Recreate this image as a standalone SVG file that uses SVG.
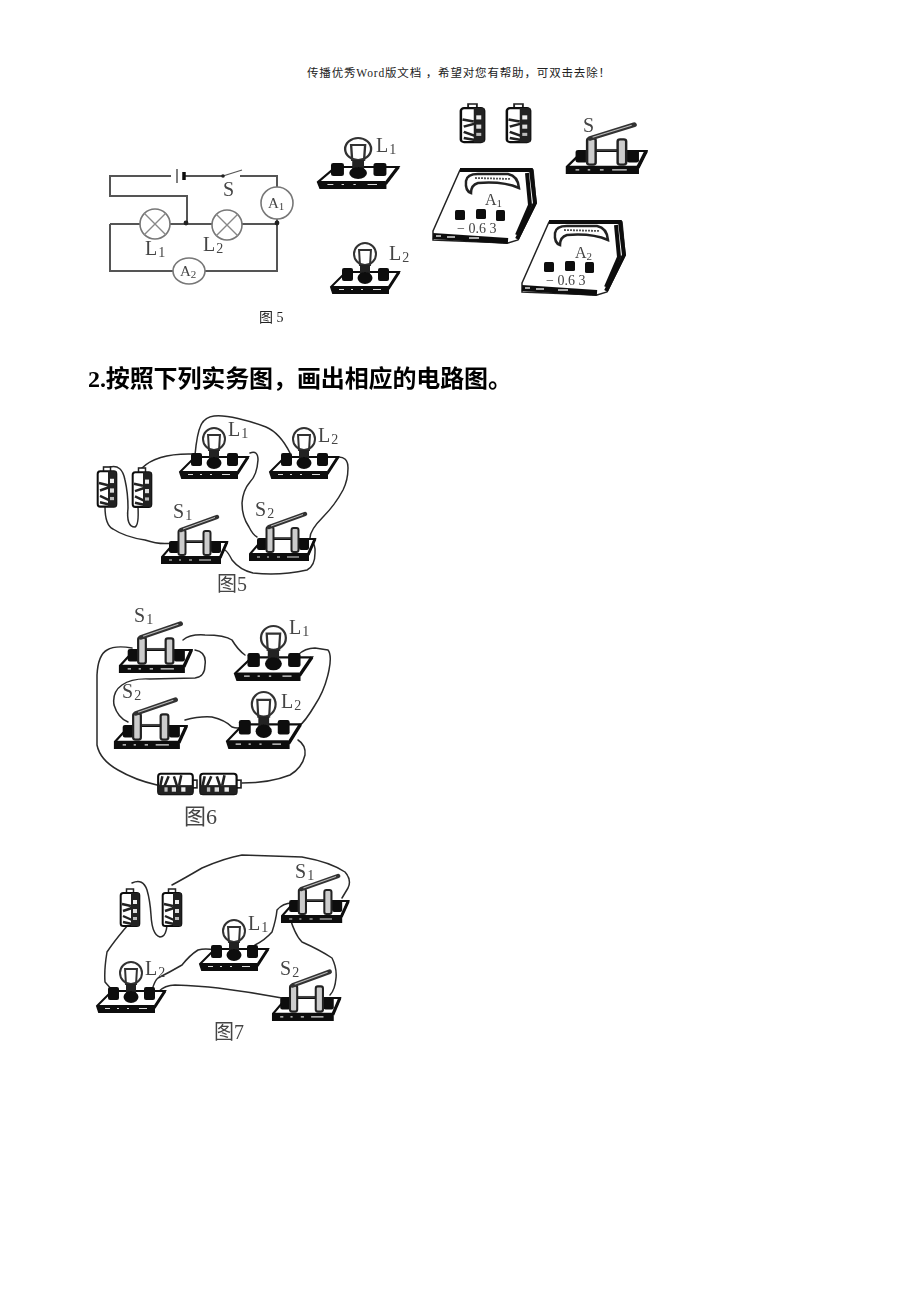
<svg xmlns="http://www.w3.org/2000/svg" width="920" height="1302" viewBox="0 0 920 1302">
<style>
text{font-family:"Liberation Serif","Noto Sans CJK SC",serif;fill:#444}
.hd{font-size:11.5px;fill:#222}
.h2{font-size:24px;font-weight:bold;fill:#000;font-family:"Liberation Serif","Noto Sans CJK SC",serif}
.lb{font-size:20px}
.sb{font-size:14px}
.cap{font-size:14px;fill:#222}
.fig{font-size:20px;fill:#444}
.w{fill:none;stroke:#2a2a2a;stroke-width:1.5;stroke-linecap:round;stroke-linejoin:round}
.c{fill:none;stroke:#555;stroke-width:2}
.k{fill:#fff;stroke:#777;stroke-width:1.6}
.x{stroke:#888;stroke-width:1.4}
</style>
<defs>
<filter id="soft" x="-5%" y="-5%" width="110%" height="110%"><feGaussianBlur stdDeviation="0.45"/></filter>
<g id="bulb">
<path d="M0 -6L15 -21L68 -21L57 -4L57 0L2 0Z" fill="#fff" stroke="#111" stroke-width="2"/>
<path d="M0 -7L57 -7L57 0L2 0Z" fill="#111"/>
<path d="M8 -3.500h5M20 -3.500h2M30 -3.500h2M42 -3.500h8" stroke="#ddd" stroke-width="1.2"/>
<path d="M57 -4L68 -21" stroke="#111" stroke-width="3"/>
<rect x="11" y="-25" width="11" height="13" rx="2" fill="#111"/>
<rect x="47" y="-25" width="11" height="13" rx="2" fill="#111"/>
<circle cx="34" cy="-39" r="11" fill="#fff" stroke="#333" stroke-width="2"/>
<path d="M28 -44L29 -27M40 -44L39 -27M28 -43L40 -43" stroke="#333" stroke-width="2" fill="none"/>
<rect x="29" y="-28" width="10" height="12" fill="#222"/>
<ellipse cx="34" cy="-15" rx="7.500" ry="6" fill="#111"/>
</g>
<g id="switch">
<path d="M0 -6L13 -21L65 -21L58 -5L58 0L0 0Z" fill="#fff" stroke="#111" stroke-width="2"/>
<path d="M0 -7L58 -7L58 0L0 0Z" fill="#111"/>
<path d="M7 -3h3M17 -3h2M27 -3h3M37 -3h12" stroke="#ddd" stroke-width="1.2"/>
<path d="M58 -5L65 -21" stroke="#111" stroke-width="3"/>
<rect x="7" y="-22" width="10" height="12" rx="2" fill="#111"/>
<rect x="49" y="-22" width="10" height="12" rx="2" fill="#111"/>
<path d="M24 -22H44" stroke="#444" stroke-width="1.800"/>
<rect x="16.500" y="-33" width="7" height="25" rx="2" fill="#ccc" stroke="#222" stroke-width="2"/>
<rect x="41.500" y="-32" width="7" height="24" rx="2" fill="#ccc" stroke="#222" stroke-width="2"/>
<path d="M19 -33L55 -46" stroke="#333" stroke-width="4.500" stroke-linecap="round"/>
<path d="M21 -34L53 -45.500" stroke="#bbb" stroke-width="1"/>
</g>
<g id="cell">
<rect x="6.500" y="0" width="7" height="5" fill="#fff" stroke="#222" stroke-width="1.500"/>
<rect x="0.700" y="4" width="18.600" height="33" rx="2.500" fill="#fff" stroke="#111" stroke-width="2"/>
<rect x="11" y="4" width="8.500" height="33" fill="#222"/>
<path d="M2 15L11 17M3 22L12 19M3 27L12 31M3 33L12 35" stroke="#222" stroke-width="2.400"/>
<rect x="13" y="11" width="4" height="4" fill="#eee"/>
<rect x="13" y="20" width="4" height="4" fill="#ddd"/>
<rect x="13" y="28" width="4" height="3" fill="#bbb"/>
</g>
<g id="meter">
<path d="M0 -12L27 -73L100 -73L103 -40L85 -3L75 0L0 -3Z" fill="#fff" stroke="#222" stroke-width="1.500"/>
<path d="M27 -73H98L102 -40L84 -4" fill="none" stroke="#111" stroke-width="4"/>
<path d="M94 -70L97 -38L84 -8" fill="none" stroke="#111" stroke-width="4"/>
<path d="M33 -62Q34 -69 45 -69L75 -69Q85 -67 86 -55Q70 -62 45 -60Q38 -58 38 -50Q32 -52 33 -62Z" fill="#fff" stroke="#222" stroke-width="2.500"/>
<path d="M42 -65L78 -64" stroke="#555" stroke-width="1.800" stroke-dasharray="2 1"/>
<rect x="22" y="-33" width="10" height="10" rx="1.500" fill="#111"/>
<rect x="43" y="-34" width="10" height="10" rx="1.500" fill="#111"/>
<rect x="63" y="-33" width="9" height="11" rx="1.500" fill="#111"/>
<path d="M0 -7L75 -2" stroke="#111" stroke-width="6"/>
<path d="M3 -7h5M14 -6h8M36 -5h10" stroke="#ddd" stroke-width="1.400"/>
</g>
</defs>
<rect width="920" height="1302" fill="#fff"/>
<text class="hd" x="307" y="77" textLength="303" lengthAdjust="spacing">传播优秀Word版文档 ，希望对您有帮助，可双击去除！</text>
<g filter="url(#soft)">
<g id="connectors">
<g id="circuit-wires" class="c">
<path d="M171 176H110V196H187V223M184 176H223M240 176H277V187M277 219V223M110 224H140M170 224H212M242 224H277V271H205M173 271H110V224"/>
<path d="M223 176L242 170" stroke-width="1.200"/>
<path d="M177 169V183" stroke-width="1.500"/>
<path d="M184 172V180" stroke="#111" stroke-width="3.500"/>
</g>
<g id="fig5-wires" class="w">
<path d="M142 468Q157 453 193 454"/>
<path d="M195 455Q197 433 201 425Q205 417 214 416Q223 415 238 418.500Q253 422 266 427Q280 433 290 453"/>
<path d="M250 453Q258 450 258 460Q257 475 250 482Q243 490 242 503Q242 517 249 527Q253 535 257 537"/>
<path d="M337 457Q348 456 348 468Q348 480 343 490Q335 505 323 517Q310 530 310 538Q316 545 315 553Q315 566 307 570Q280 576 253 573Q240 570 232 560Q228 552 225 550"/>
<path d="M110 467Q122 464 125 480Q128 493 128 508Q126 527 135 527Q139 525 138 507"/>
<path d="M105 507Q105 525 113 529Q125 537 145 540Q160 545 172 543"/>
</g>
<g id="fig6-wires" class="w">
<path d="M132 648Q115 645 107 650Q98 655 97 675L97 745Q100 760 118 770Q135 780 157 785"/>
<path d="M183 640Q190 634 205 635Q225 635 232 640Q238 650 245 655"/>
<path d="M195 650Q207 652 205 665Q205 677 195 678L150 679Q132 678 122 685Q112 692 114 705Q118 718 128 722"/>
<path d="M185 720Q200 716 212 717Q225 720 232 727Q238 729 242 727"/>
<path d="M298 655Q305 648 315 648L328 650Q332 655 329 670Q325 690 315 705Q305 722 298 727"/>
<path d="M298 740Q306 745 305 755Q302 768 290 775Q270 783 242 783"/>
</g>
<g id="fig7-wires" class="w">
<path d="M132 883Q143 878 147 890Q150 900 151 915Q152 935 160 937Q166 937 167 925"/>
<path d="M172 885Q185 878 202 868Q225 858 242 855L302 857Q330 862 345 872Q352 880 348 888L342 898"/>
<path d="M128 925Q115 940 107 952Q104 970 105 982L112 990"/>
<path d="M152 990Q155 980 158 978Q170 972 182 965Q190 955 198 950Q205 948 215 950"/>
<path d="M158 992Q165 985 175 985Q200 986 218 988Q250 992 282 998"/>
<path d="M255 945Q265 940 272 932Q276 920 277 910Q283 903 292 903"/>
<path d="M290 918Q295 935 302 942Q320 950 332 958Q337 968 336 978Q335 990 330 995"/>
</g>
</g>
<g id="circuit">
<g id="c-L1"><circle class="k" cx="155" cy="224" r="15"/><path class="x" d="M144 213L166 235M166 213L144 235"/><text class="lb" x="145" y="255">L<tspan class="sb" dx="1" dy="2">1</tspan></text></g>
<g id="c-L2"><circle class="k" cx="227" cy="225" r="15"/><path class="x" d="M216 214L238 236M238 214L216 236"/><text class="lb" x="203" y="251">L<tspan class="sb" dx="1" dy="2">2</tspan></text></g>
<g id="c-A1"><circle class="k" cx="277" cy="203" r="16"/><text x="268" y="208" font-size="15">A<tspan font-size="11" dy="2">1</tspan></text></g>
<g id="c-A2"><ellipse class="k" cx="189" cy="271" rx="16" ry="13"/><text x="180" y="276" font-size="15">A<tspan font-size="11" dy="2">2</tspan></text></g>
<circle cx="186" cy="223" r="2.400" fill="#222"/><circle cx="277" cy="223" r="2.400" fill="#222"/><circle cx="223" cy="176" r="1.800" fill="#222"/>
<text class="lb" x="223" y="196">S</text>
</g>
<g id="top-L1" transform="translate(318 188) scale(1.18 1)"><use href="#bulb"/></g><text class="lb" x="376" y="152">L<tspan class="sb" dx="1" dy="2">1</tspan></text>
<g id="top-L2" transform="translate(331 293)"><use href="#bulb"/></g><text class="lb" x="389" y="260">L<tspan class="sb" dx="1" dy="2">2</tspan></text>
<g id="top-B1" transform="translate(460 104) scale(1.25 1.03)"><use href="#cell"/></g>
<g id="top-B2" transform="translate(506 104) scale(1.25 1.03)"><use href="#cell"/></g>
<g id="top-S" transform="translate(567 173) scale(1.22 1.05)"><use href="#switch"/></g><text class="lb" x="583" y="132">S</text>
<g id="top-A1" transform="translate(433 243)"><use href="#meter"/><text x="52" y="-38" font-size="16">A<tspan font-size="11" dy="2">1</tspan></text><text x="24" y="-10" font-size="14">− 0.6 3</text></g>
<g id="top-A2" transform="translate(522 295)"><use href="#meter"/><text x="53" y="-37" font-size="16">A<tspan font-size="11" dy="2">2</tspan></text><text x="24" y="-10" font-size="14">− 0.6 3</text></g>
<text class="cap" x="259" y="322">图 5</text>
<g id="f5-B1" transform="translate(97 467) scale(1 1.07)"><use href="#cell"/></g>
<g id="f5-B2" transform="translate(132 468) scale(1 1.05)"><use href="#cell"/></g>
<g id="f5-L1" transform="translate(180 478)"><use href="#bulb"/></g><text class="lb" x="228" y="436">L<tspan class="sb" dx="1" dy="2">1</tspan></text>
<g id="f5-L2" transform="translate(270 478)"><use href="#bulb"/></g><text class="lb" x="318" y="442">L<tspan class="sb" dx="1" dy="2">2</tspan></text>
<g id="f5-S1" transform="translate(162 563)"><use href="#switch"/></g><text class="lb" x="173" y="518">S<tspan class="sb" dx="1" dy="2">1</tspan></text>
<g id="f5-S2" transform="translate(250 560)"><use href="#switch"/></g><text class="lb" x="255" y="516">S<tspan class="sb" dx="1" dy="2">2</tspan></text>
<text class="fig" x="217" y="591">图5</text>
<g id="f6-S1" transform="translate(120 672) scale(1.1 1.05)"><use href="#switch"/></g><text class="lb" x="134" y="622">S<tspan class="sb" dx="1" dy="2">1</tspan></text>
<g id="f6-L1" transform="translate(235 680) scale(1.13 1.08)"><use href="#bulb"/></g><text class="lb" x="289" y="634">L<tspan class="sb" dx="1" dy="2">1</tspan></text>
<g id="f6-S2" transform="translate(115 748) scale(1.1 1.05)"><use href="#switch"/></g><text class="lb" x="122" y="698">S<tspan class="sb" dx="1" dy="2">2</tspan></text>
<g id="f6-L2" transform="translate(227 748) scale(1.08 1.12)"><use href="#bulb"/></g><text class="lb" x="281" y="708">L<tspan class="sb" dx="1" dy="2">2</tspan></text>
<g id="f6-B1" transform="translate(197 773) rotate(90) scale(1.1 1.05)"><use href="#cell"/></g>
<g id="f6-B2" transform="translate(241 773) rotate(90) scale(1.1 1.1)"><use href="#cell"/></g>
<text class="fig" x="184" y="824" style="font-size:22px">图6</text>
<g id="f7-B1" transform="translate(120 889)"><use href="#cell"/></g>
<g id="f7-B2" transform="translate(162 889)"><use href="#cell"/></g>
<g id="f7-S1" transform="translate(282 922) scale(1.02 1)"><use href="#switch"/></g><text class="lb" x="295" y="878">S<tspan class="sb" dx="1" dy="2">1</tspan></text>
<g id="f7-L1" transform="translate(200 970)"><use href="#bulb"/></g><text class="lb" x="248" y="930">L<tspan class="sb" dx="1" dy="2">1</tspan></text>
<g id="f7-L2" transform="translate(97 1012)"><use href="#bulb"/></g><text class="lb" x="145" y="975">L<tspan class="sb" dx="1" dy="2">2</tspan></text>
<g id="f7-S2" transform="translate(273 1020) scale(1.03 1.05)"><use href="#switch"/></g><text class="lb" x="280" y="975">S<tspan class="sb" dx="1" dy="2">2</tspan></text>
<text class="fig" x="214" y="1039">图7</text>
</g>
<text class="h2" x="88" y="387" textLength="424" lengthAdjust="spacing">2.按照下列实务图，画出相应的电路图。</text>
</svg>
